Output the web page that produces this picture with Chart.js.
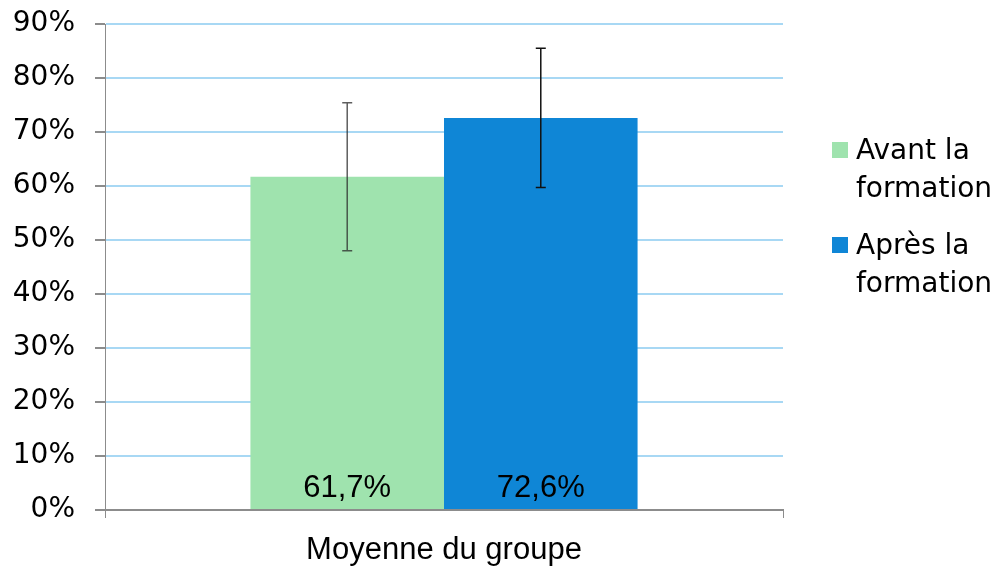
<!DOCTYPE html>
<html>
<head>
<meta charset="utf-8">
<script src="https://cdn.jsdelivr.net/npm/chart.js@4.4.0/dist/chart.umd.min.js"></script>
<style>
  html, body { margin: 0; padding: 0; background: #ffffff; }
  #wrap { width: 1000px; height: 571px; }
</style>
</head>
<body>
<div id="wrap"><canvas id="c" width="1000" height="571"></canvas></div>
<script>
// ---- data ----
const categories = ['Moyenne du groupe'];
const seriesNames = ['Avant la formation', 'Après la formation'];
const avantValues = [61.7];
const apresValues = [72.6];
const avantErrors = [13.7];
const apresErrors = [12.9];
const yTickValues = [0, 10, 20, 30, 40, 50, 60, 70, 80, 90];

const seriesColors = ['#9fe3ae', '#0f86d6'];
const errorColors = ['rgba(40,40,40,0.75)', '#111111'];
const errorArrays = [avantErrors, apresErrors];

const fmt = v => v.toFixed(1).replace('.', ',') + '%';

const overlayPlugin = {
  id: 'overlay',
  afterDatasetsDraw(chart) {
    const ctx = chart.ctx;
    const y = chart.scales.y;
    chart.data.datasets.forEach((ds, di) => {
      const meta = chart.getDatasetMeta(di);
      meta.data.forEach((bar, i) => {
        const v = ds.data[i];
        const e = errorArrays[di][i];
        const x = bar.x;
        const yHi = y.getPixelForValue(v + e);
        const yLo = y.getPixelForValue(v - e);
        ctx.save();
        ctx.strokeStyle = errorColors[di];
        ctx.lineWidth = 1.5;
        ctx.beginPath();
        ctx.moveTo(x, yHi); ctx.lineTo(x, yLo);
        ctx.moveTo(x - 5, yHi); ctx.lineTo(x + 5, yHi);
        ctx.moveTo(x - 5, yLo); ctx.lineTo(x + 5, yLo);
        ctx.stroke();
        // value label
        ctx.fillStyle = '#000';
        ctx.font = '31px "Liberation Sans", Arial, sans-serif';
        ctx.textAlign = 'center';
        ctx.textBaseline = 'alphabetic';
        ctx.fillText(fmt(v), x, y.getPixelForValue(0) - 13);
        ctx.restore();
      });
    });
    // legend
    ctx.save();
    ctx.font = '28px "DejaVu Sans", Verdana, sans-serif';
    ctx.textAlign = 'left';
    ctx.textBaseline = 'alphabetic';
    chart.data.datasets.forEach((ds, di) => {
      const baseY = 159 + di * 95;
      ctx.fillStyle = ds.backgroundColor;
      ctx.fillRect(832, baseY - 17, 16, 16);
      const name = ds.label;
      const k = name.lastIndexOf(' ');
      const lines = [name.slice(0, k), name.slice(k + 1)];
      ctx.fillStyle = '#000';
      lines.forEach((ln, li) => ctx.fillText(ln, 856, baseY + li * 38));
    });
    ctx.restore();
  }
};

new Chart(document.getElementById('c'), {
  type: 'bar',
  data: {
    labels: categories,
    datasets: [
      { label: seriesNames[0], data: avantValues, backgroundColor: seriesColors[0] },
      { label: seriesNames[1], data: apresValues, backgroundColor: seriesColors[1] }
    ]
  },
  options: {
    responsive: false,
    animation: false,
    devicePixelRatio: 1,
    layout: { padding: { left: 0, right: 217, top: 24, bottom: 0 } },
    plugins: { legend: { display: false }, tooltip: { enabled: false } },
    datasets: { bar: { barPercentage: 1, categoryPercentage: 0.571 } },
    scales: {
      x: {
        grid: { drawOnChartArea: false, drawTicks: true, tickLength: 8, color: '#8c8c8c', tickColor: '#8c8c8c', offset: true },
        border: { display: true, color: '#8c8c8c', width: 2 },
        ticks: { color: '#000', padding: 14, font: { family: '"Liberation Sans", Arial, sans-serif', size: 31 } },
        afterFit(s) { s.height = 61; s.paddingLeft = 0; s.paddingRight = 0; }
      },
      y: {
        min: 0, max: 90,
        afterBuildTicks(s) { s.ticks = yTickValues.map(v => ({ value: v })); },
        grid: { color: '#a8d8f4', lineWidth: 2, tickLength: 10, tickColor: '#8c8c8c' },
        border: { display: true, color: '#8c8c8c', width: 1 },
        ticks: { color: '#000', padding: 20, callback: v => v + '%', font: { family: '"DejaVu Sans", Verdana, sans-serif', size: 28 } },
        afterFit(s) { s.width = 105; s.paddingTop = 0; s.paddingBottom = 0; }
      }
    }
  },
  plugins: [overlayPlugin]
});
</script>
</body>
</html>
